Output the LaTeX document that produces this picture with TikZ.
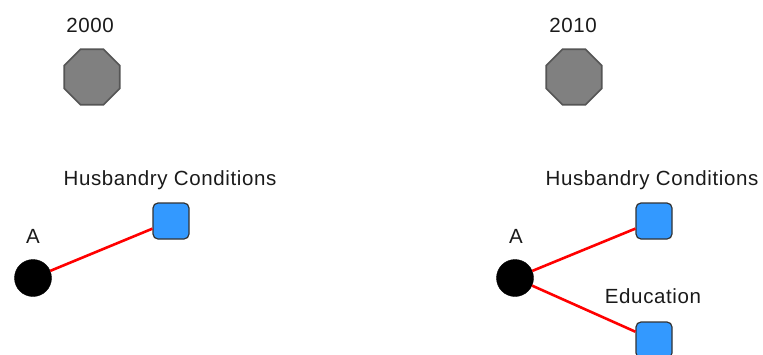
\documentclass[tikz,border=0pt]{standalone}
\usepackage{fontspec}
\setmainfont{Liberation Sans}[LetterSpace=3]
\usetikzlibrary{shapes.geometric}
\definecolor{factorblue}{HTML}{3399FF}
\definecolor{markgray}{HTML}{808080}
\definecolor{markedge}{HTML}{555555}
\definecolor{labelink}{HTML}{1A1A1A}
\begin{document}
\begin{tikzpicture}[x=1pt,y=-1pt,
  yearmark/.style={regular polygon, regular polygon sides=8,
    minimum size=60pt, inner sep=0pt, fill=markgray, draw=markedge, line width=1.6pt},
  actor/.style={circle, minimum size=37pt, inner sep=0pt, fill=black, draw=black},
  factor/.style={rectangle, rounded corners=5pt, minimum size=36pt, inner sep=0pt,
    fill=factorblue, draw=black!80, line width=1.2pt},
  tag/.style={font=\fontsize{20.5}{23}\selectfont, text=labelink, inner sep=0pt, anchor=base},
  tie/.style={red, line width=2.6pt}]
\useasboundingbox (0,0) rectangle (763,354);

% 2000 panel
\node[tag] (y1) at (90,32) {2000};
\node[yearmark] (o1) at (92,77) {};
\node[tag] (hc1) at (170,185) {Husbandry Conditions};
\node[tag] (a1) at (33,243) {A};
\node[factor] (s1) at (171,221) {};
\node[actor] (c1) at (33,278) {};
\draw[tie] (c1) -- (s1);

% 2010 panel
\node[tag] (y2) at (573,32) {2010};
\node[yearmark] (o2) at (574,77) {};
\node[tag] (hc2) at (652,185) {Husbandry Conditions};
\node[tag] (a2) at (516,243) {A};
\node[tag] (ed2) at (653,303) {Education};
\node[factor] (s2) at (654,221) {};
\node[factor] (s3) at (654,340) {};
\node[actor] (c2) at (515,278) {};
\draw[tie] (c2) -- (s2);
\draw[tie] (c2) -- (s3);
\end{tikzpicture}
\end{document}
